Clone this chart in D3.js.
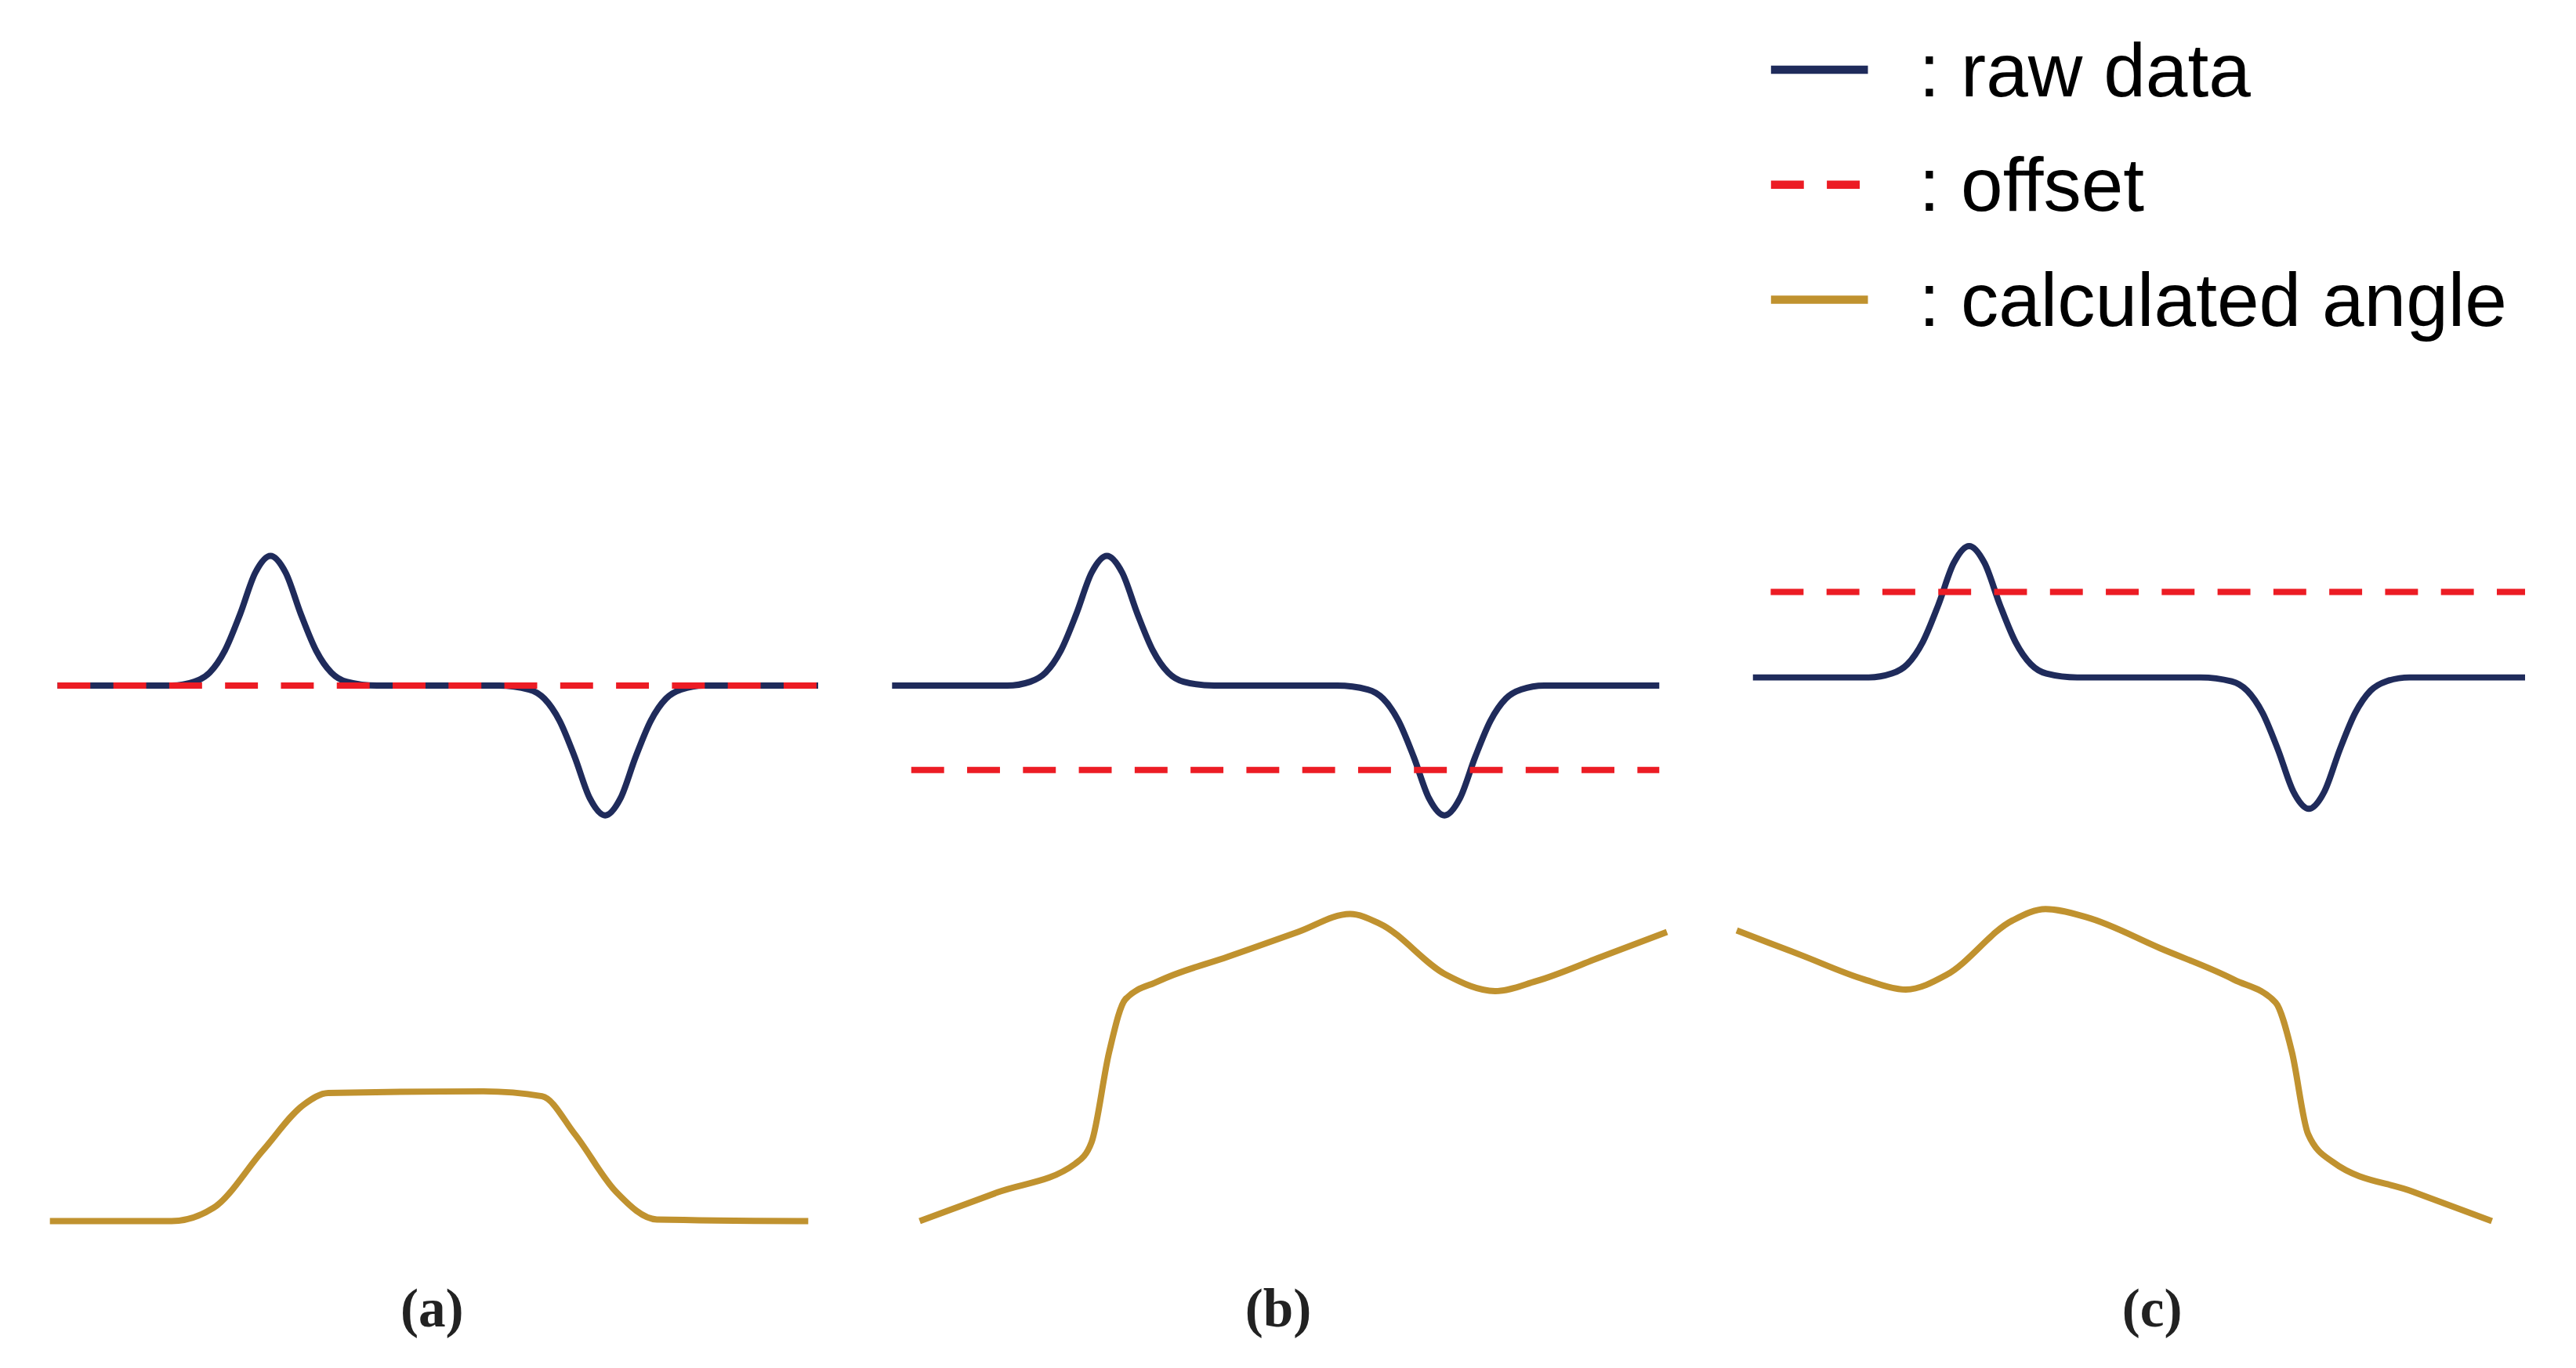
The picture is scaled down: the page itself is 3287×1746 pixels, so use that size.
<!DOCTYPE html>
<html>
<head>
<meta charset="utf-8">
<script src="https://cdn.jsdelivr.net/npm/d3@7"></script>
<style>
  body { margin: 0; background: #fff; }
  svg { display: block; }
</style>
</head>
<body>
<div id="chart"></div>
<script>
// raw signal (same shape in every panel): sample position, value
const rawX = [0, 15, 18, 20, 22, 24, 26, 28, 30, 32, 34, 36, 38, 42, 58, 62, 64, 66, 68, 70, 72, 74, 76, 78, 80, 82, 85, 100];
const rawY = [0, 0, 0.03, 0.1, 0.27, 0.55, 0.87, 1, 0.87, 0.55, 0.27, 0.1, 0.03, 0, 0, -0.03, -0.1, -0.27, -0.55, -0.87, -1, -0.87, -0.55, -0.27, -0.1, -0.03, 0, 0];

// offset level per panel
const panelNames = ['(a)', '(b)', '(c)'];
const offsets = [0, -0.65, 0.65];
const offsetStart = [0, 2.5, 2.3];

// calculated angle per panel
const angleA_x = [-1, 15, 20.5, 27, 32.4, 35.6, 56, 63.7, 68, 73.4, 78.8, 98.7];
const angleA_y = [0, 0, 8, 43, 71, 78, 79, 76, 53, 18, 1, 0];
const angleB_x = [3.6, 13.75, 23.9, 26, 28.3, 30.4, 34.7, 43.8, 52.9, 59.7, 63.6, 72.2, 78.6, 83.9, 92.5, 101];
const angleB_y = [0, 17.5, 35, 48, 103, 135, 146, 161, 176, 187, 181, 150, 140, 146, 161, 176];
const angleC_x = [-2.1, 6.2, 14.5, 19.8, 25.1, 33.6, 37.9, 43.2, 52.8, 62.3, 67.7, 69.8, 71.9, 75.1, 85.4, 95.7];
const angleC_y = [177, 162, 147, 141, 150, 183, 190, 185, 166, 147, 133, 103, 53, 36, 18, 0];

const legendLabels = [': raw data', ': offset', ': calculated angle'];

const colors = { raw: '#1f2b5b', offset: '#ec1c24', angle: '#c0922f' };

const W = 1568, H = 832;
const svg = d3.select('#chart').append('svg')
  .attr('width', 3287).attr('height', 1746)
  .attr('viewBox', `0 0 ${W} ${H}`);

const panels = [
  { x0: 35, x1: 498, base: 417, amp: 79, ax: angleA_x, ay: angleA_y, lx: 263 },
  { x0: 543, x1: 1010, base: 417, amp: 79, ax: angleB_x, ay: angleB_y, lx: 778 },
  { x0: 1067, x1: 1537, base: 412, amp: 80, ax: angleC_x, ay: angleC_y, lx: 1310 },
];

const angleY = d3.scaleLinear().domain([0, 200]).range([743, 543]);

panels.forEach((p, i) => {
  const x = d3.scaleLinear().domain([0, 100]).range([p.x0, p.x1]);
  const y = d3.scaleLinear().domain([-1, 1]).range([p.base + p.amp, p.base - p.amp]);
  const g = svg.append('g');

  const raw = rawX.map((v, k) => [v, rawY[k]]);
  g.append('path')
    .attr('d', d3.line().x(d => x(d[0])).y(d => y(d[1])).curve(d3.curveMonotoneX)(raw))
    .attr('fill', 'none').attr('stroke', colors.raw).attr('stroke-width', 3.8);

  g.append('line')
    .attr('x1', x(offsetStart[i])).attr('x2', x(100))
    .attr('y1', y(offsets[i])).attr('y2', y(offsets[i]))
    .attr('stroke', colors.offset).attr('stroke-width', 3.8)
    .attr('stroke-dasharray', '20 14');

  const ang = p.ax.map((v, k) => [v, p.ay[k]]);
  g.append('path')
    .attr('d', d3.line().x(d => x(d[0])).y(d => angleY(d[1])).curve(d3.curveMonotoneX)(ang))
    .attr('fill', 'none').attr('stroke', colors.angle).attr('stroke-width', 3.8);

  g.append('text')
    .attr('x', p.lx).attr('y', 807)
    .attr('text-anchor', 'middle')
    .attr('font-family', 'Liberation Serif, serif')
    .attr('font-weight', 'bold')
    .attr('font-size', 33)
    .attr('fill', '#222')
    .text(panelNames[i]);
});

// legend
const legend = svg.append('g');
const legendStyles = [
  { c: colors.raw, dash: null },
  { c: colors.offset, dash: '20 14' },
  { c: colors.angle, dash: null },
];
legendLabels.forEach((t, i) => {
  const yy = 42 + i * 70;
  legend.append('line')
    .attr('x1', 1078).attr('x2', 1137).attr('y1', yy).attr('y2', yy)
    .attr('stroke', legendStyles[i].c).attr('stroke-width', 5)
    .attr('stroke-dasharray', legendStyles[i].dash);
  legend.append('text')
    .attr('x', 1168).attr('y', yy + 16)
    .attr('font-family', 'Liberation Sans Narrow, Liberation Sans, sans-serif')
    .attr('font-size', 46)
    .attr('fill', '#000')
    .text(t);
});
</script>
</body>
</html>
